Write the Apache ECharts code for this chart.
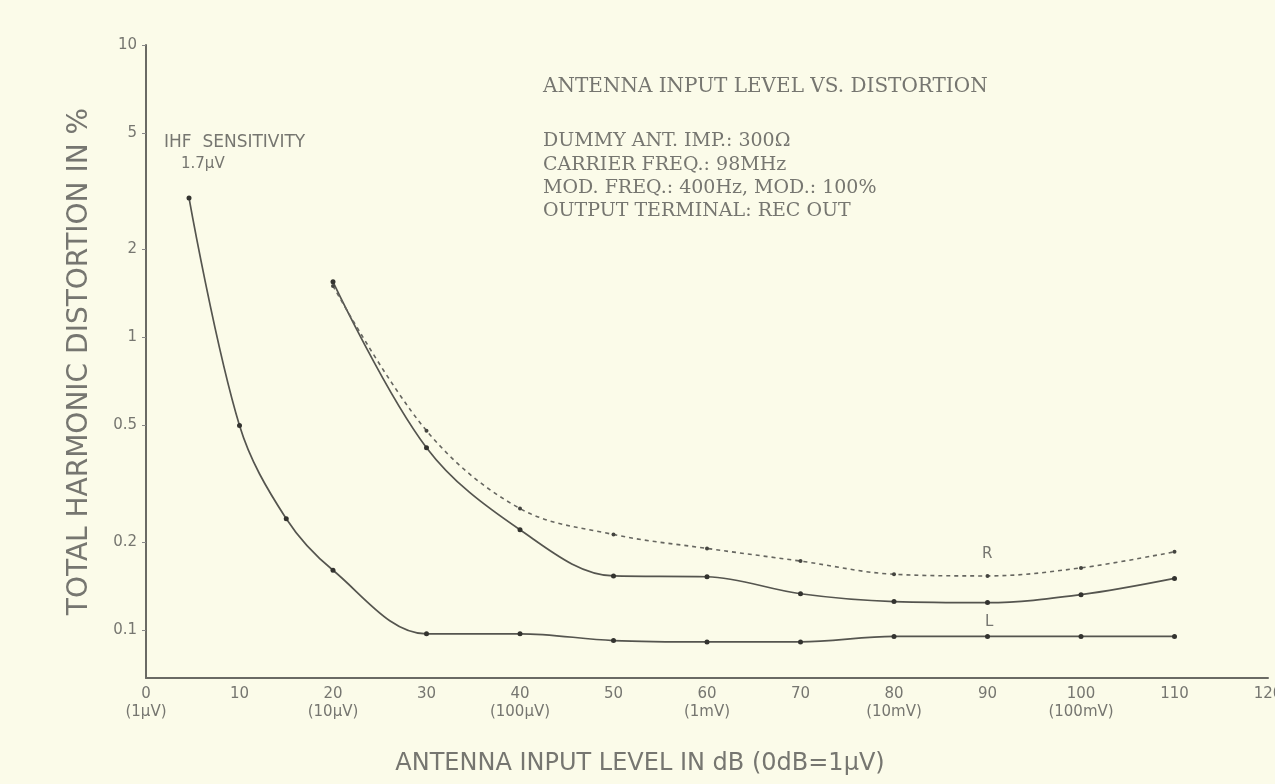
<!DOCTYPE html>
<html>
<head>
<meta charset="utf-8">
<script src="https://cdn.jsdelivr.net/npm/echarts@6/dist/echarts.min.js"></script>
<style>
  html, body { margin: 0; padding: 0; background: #fbfbe9; }
  #chart { width: 1275px; height: 784px; }
</style>
</head>
<body>
<div id="chart"></div>
<script>
// x ticks (dB) and their labels
var xTicks = [0, 10, 20, 30, 40, 50, 60, 70, 80, 90, 100, 110, 120]
var xTickLabels = ['0\n(1μV)', '10', '20\n(10μV)', '30', '40\n(100μV)', '50', '60\n(1mV)',
  '70', '80\n(10mV)', '90', '100\n(100mV)', '110', '120']
// y ticks (THD %, log scale)
var yTicks = [0.1, 0.2, 0.5, 1, 2, 5, 10]

// L channel (solid, lower)
var lLevel = [4.6, 10, 15, 20, 30, 40, 50, 60, 70, 80, 90, 100, 110]
var lThd = [3.0, 0.5, 0.24, 0.16, 0.097, 0.097, 0.092, 0.091, 0.091, 0.095, 0.095, 0.095, 0.095]
// R channel (solid, upper)
var rLevel = [20, 30, 40, 50, 60, 70, 80, 90, 100, 110]
var rThd = [1.55, 0.42, 0.22, 0.153, 0.152, 0.133, 0.125, 0.124, 0.132, 0.15]
// R channel (dashed)
var rdLevel = [20, 30, 40, 50, 60, 70, 80, 90, 100, 110]
var rdThd = [1.5, 0.48, 0.26, 0.212, 0.19, 0.172, 0.155, 0.153, 0.163, 0.185]

function pairs(xs, ys) {
  return xs.map(function (x, i) { return [x, ys[i]] })
}

var textColor = '#767670'
var lineColor = '#55554f'
var serif = '"DejaVu Serif"'
var sans = '"DejaVu Sans"'

var myChart = echarts.init(document.getElementById('chart'))
var option = {
  backgroundColor: '#fbfbe9',
  animation: false,
  grid: { left: 146, right: 7, top: 45, bottom: 106, outerBoundsMode: 'none' },
  xAxis: {
    type: 'value',
    min: 0,
    max: 120,
    interval: 10,
    axisLine: { lineStyle: { color: '#6a6a64', width: 2 } },
    axisTick: { show: false },
    splitLine: { show: false },
    axisLabel: {
      color: textColor,
      fontSize: 15,
      lineHeight: 18,
      margin: 7,
      fontFamily: 'DejaVu Sans',
      formatter: function (v) { return xTickLabels[xTicks.indexOf(v)] }
    }
  },
  yAxis: {
    type: 'log',
    logBase: 10,
    min: 0.0685,
    max: 10,
    name: 'TOTAL HARMONIC DISTORTION IN %',
    nameLocation: 'middle',
    nameRotate: 90,
    nameGap: 52,
    nameTextStyle: { color: textColor, fontSize: 28, fontFamily: 'DejaVu Sans' },
    axisLine: { show: true, lineStyle: { color: '#6a6a64', width: 2 } },
    axisTick: { show: true, length: 4, customValues: yTicks, lineStyle: { color: '#888' } },
    splitLine: { show: false },
    axisLabel: {
      customValues: yTicks,
      color: textColor,
      fontSize: 15,
      margin: 9,
      fontFamily: 'DejaVu Sans',
      formatter: function (v) { return String(+v.toFixed(2)) }
    }
  },
  series: [{
    name: 'L',
    type: 'line',
    smooth: 0.35,
    symbol: 'circle',
    symbolSize: 5,
    itemStyle: { color: '#33332f' },
    lineStyle: { color: lineColor, width: 1.7 },
    data: pairs(lLevel, lThd)
  }, {
    name: 'R',
    type: 'line',
    smooth: 0.35,
    symbol: 'circle',
    symbolSize: 5,
    itemStyle: { color: '#33332f' },
    lineStyle: { color: lineColor, width: 1.7 },
    data: pairs(rLevel, rThd)
  }, {
    name: 'R dashed',
    type: 'line',
    smooth: 0.35,
    symbol: 'circle',
    symbolSize: 4,
    itemStyle: { color: '#44443f' },
    lineStyle: { color: '#666660', width: 1.6, type: [4, 4] },
    data: pairs(rdLevel, rdThd)
  }],
  graphic: [
    { type: 'text', x: 640, y: 752, style: { text: 'ANTENNA INPUT LEVEL IN dB (0dB=1μV)', fill: textColor, font: '24px ' + sans, textAlign: 'center' } },
    { type: 'text', left: 543, top: 77, style: { text: 'ANTENNA INPUT LEVEL VS. DISTORTION', fill: textColor, font: '20px ' + serif } },
    { type: 'text', left: 543, top: 132, style: { text: 'DUMMY ANT. IMP.: 300Ω', fill: textColor, font: '19px ' + serif } },
    { type: 'text', left: 543, top: 156, style: { text: 'CARRIER FREQ.: 98MHz', fill: textColor, font: '19px ' + serif } },
    { type: 'text', left: 543, top: 179, style: { text: 'MOD. FREQ.: 400Hz, MOD.: 100%', fill: textColor, font: '19px ' + serif } },
    { type: 'text', left: 543, top: 202, style: { text: 'OUTPUT TERMINAL: REC OUT', fill: textColor, font: '19px ' + serif } },
    { type: 'text', left: 164, top: 134, style: { text: 'IHF  SENSITIVITY', fill: textColor, font: '17px ' + sans } },
    { type: 'text', left: 181, top: 157, style: { text: '1.7μV', fill: textColor, font: '15px ' + sans } },
    { type: 'text', left: 982, top: 547, style: { text: 'R', fill: textColor, font: '15px ' + sans } },
    { type: 'text', left: 985, top: 615, style: { text: 'L', fill: textColor, font: '15px ' + sans } }
  ]
}
myChart.setOption(option)
</script>
</body>
</html>
